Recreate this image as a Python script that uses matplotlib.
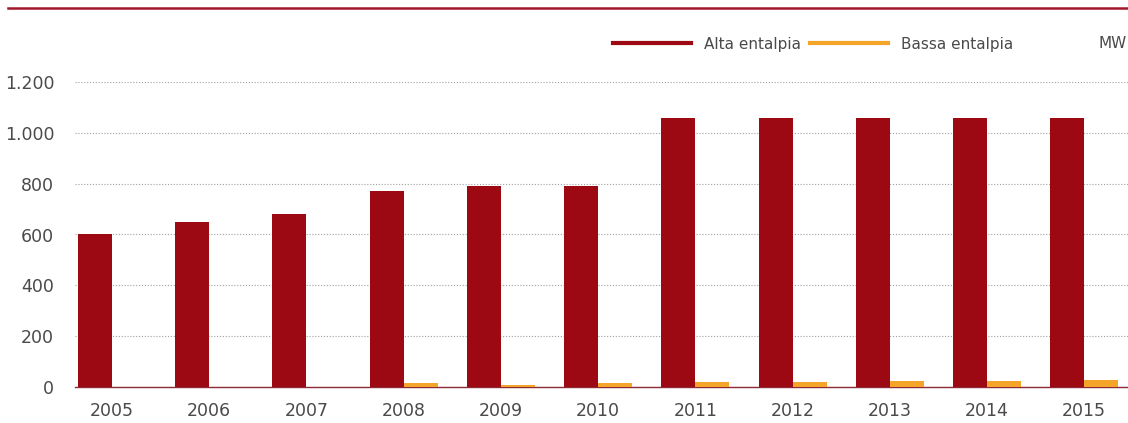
import matplotlib
matplotlib.use("Agg")
import matplotlib.pyplot as plt
import numpy as np
from matplotlib.lines import Line2D


YEARS = ["2005", "2006", "2007", "2008", "2009", "2010",
         "2011", "2012", "2013", "2014", "2015"]

ALTA = [600, 650, 680, 770, 790, 790, 1060, 1060, 1060, 1060, 1060]
BASSA = [0, 0, 0, 15, 8, 15, 20, 20, 25, 25, 27]

Y_TICKS = [0, 200, 400, 600, 800, 1000, 1200]
Y_LABELS = ["0", "200", "400", "600", "800", "1.000", "1.200"]

RED = "#9c0912"
ORANGE = "#f4a529"
TEXT = "#4a4a4a"


def main():
    plt.rcParams["font.family"] = ["DejaVu Sans"]

    fig = plt.figure(figsize=(11.28, 4.23), dpi=100)
    ax = fig.add_axes([75 / 1128, 36 / 423, 1 - 75 / 1128, (387 - 82) / 423])

    x = np.arange(len(YEARS))
    width = 0.35
    ax.bar(x - width / 2, ALTA, width, color=RED, zorder=3)
    ax.bar(x + width / 2, BASSA, width, color=ORANGE, zorder=3)

    ax.set_xlim(-0.38, 10.45)
    ax.set_ylim(0, 1200)
    ax.set_xticks(x)
    ax.set_xticklabels(YEARS)
    ax.set_yticks(Y_TICKS)
    ax.set_yticklabels(Y_LABELS)

    ax.tick_params(axis="both", length=0, labelsize=12.5, labelcolor=TEXT)
    ax.tick_params(axis="y", pad=15)
    ax.tick_params(axis="x", pad=11)

    ax.grid(axis="y", linestyle=(0, (1, 1.6)), color="#a0a0a0", linewidth=0.8)
    ax.set_axisbelow(True)
    for side in ["top", "right", "left"]:
        ax.spines[side].set_visible(False)
    ax.spines["bottom"].set_color("#8c2a35")
    ax.spines["bottom"].set_linewidth(1)
    ax.spines["bottom"].set_zorder(2)

    # red rule on top of the figure
    fig.add_artist(Line2D([8 / 1128, 1.0], [1 - 8 / 423, 1 - 8 / 423],
                          color="#a3172b", linewidth=1.8))

    handles = [
        Line2D([], [], color=RED, linewidth=3),
        Line2D([], [], color=ORANGE, linewidth=3),
    ]
    fig.legend(handles, ["Alta entalpia", "Bassa entalpia"],
               loc="center right", bbox_to_anchor=(1013 / 1128, 1 - 44 / 423),
               ncol=2, frameon=False, labelcolor=TEXT, fontsize=11,
               handlelength=5.1, handletextpad=0.85, columnspacing=0.6,
               borderpad=0, borderaxespad=0)
    fig.text(1127 / 1128, 1 - 44 / 423, "MW", ha="right", va="center",
             fontsize=11, color=TEXT)

    fig.savefig("out.png", dpi=100)
    plt.close(fig)


if __name__ == "__main__":
    main()
